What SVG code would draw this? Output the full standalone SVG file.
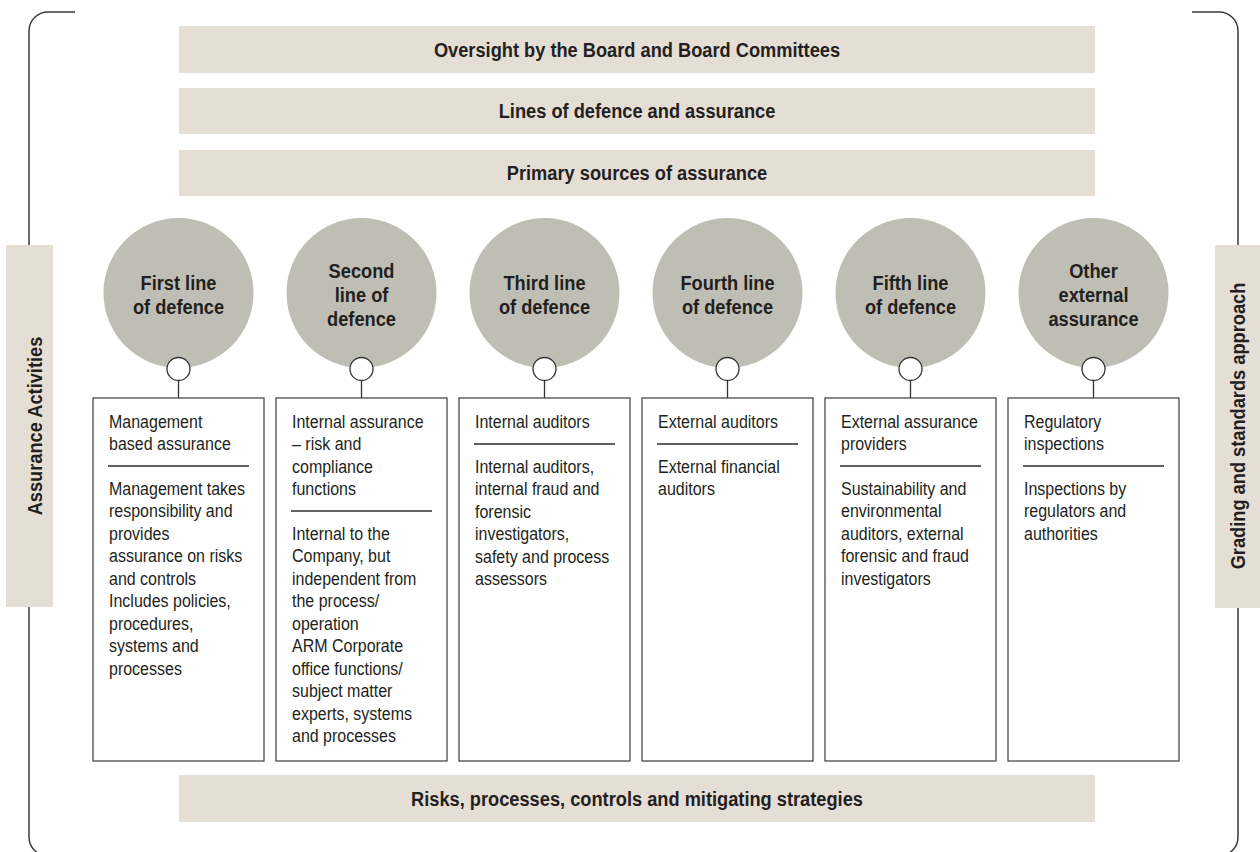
<svg xmlns="http://www.w3.org/2000/svg" width="1260" height="852" viewBox="0 0 1260 852">
<style>
.band{fill:#e5ded5}
.disc{fill:#bfbeb4}
.box{fill:#fff;stroke:#4a4a4a;stroke-width:1.3}
.sep{stroke:#2b2b2b;stroke-width:1.3}
.brk{fill:none;stroke:#3a3a3a;stroke-width:1.5}
.knob{fill:#fff;stroke:#333;stroke-width:1.3}
.stem{stroke:#333;stroke-width:1.3}
.h{font-family:"Liberation Sans",Arial,sans-serif;font-weight:bold;font-size:20.5px;fill:#231f20}
.b{font-family:"Liberation Sans",Arial,sans-serif;font-size:18.5px;fill:#231f20}
</style>

<g id="frame">
  <path class="brk" d="M75,12 H48 A19,19 0 0 0 29,31 V837 A19,19 0 0 0 48,856 H75"/>
  <path class="brk" d="M1192,12 H1219 A19,19 0 0 1 1238,31 V837 A19,19 0 0 1 1219,856 H1192"/>
</g>

<g id="side-left">
  <rect class="band" x="6" y="245" width="47" height="362"/>
  <text class="h" text-anchor="middle" transform="translate(42 426) rotate(-90) scale(0.89 1)">Assurance Activities</text>
</g>
<g id="side-right">
  <rect class="band" x="1215" y="245" width="47" height="363"/>
  <text class="h" text-anchor="middle" transform="translate(1245 426) rotate(-90) scale(0.89 1)">Grading and standards approach</text>
</g>

<g id="band-oversight">
  <rect class="band" x="179" y="26" width="916" height="47"/>
  <text class="h" text-anchor="middle" transform="translate(637 57) scale(0.89 1)">Oversight by the Board and Board Committees</text>
</g>
<g id="band-lines">
  <rect class="band" x="179" y="88" width="916" height="46"/>
  <text class="h" text-anchor="middle" transform="translate(637 118) scale(0.89 1)">Lines of defence and assurance</text>
</g>
<g id="band-primary">
  <rect class="band" x="179" y="150" width="916" height="46"/>
  <text class="h" text-anchor="middle" transform="translate(637 180) scale(0.89 1)">Primary sources of assurance</text>
</g>
<g id="band-risks">
  <rect class="band" x="179" y="775" width="916" height="47"/>
  <text class="h" text-anchor="middle" transform="translate(637 806) scale(0.89 1)">Risks, processes, controls and mitigating strategies</text>
</g>

<g id="connectors">
  <line class="stem" x1="178.5" y1="380.5" x2="178.5" y2="398"/>
  <line class="stem" x1="361.5" y1="380.5" x2="361.5" y2="398"/>
  <line class="stem" x1="544.5" y1="380.5" x2="544.5" y2="398"/>
  <line class="stem" x1="727.5" y1="380.5" x2="727.5" y2="398"/>
  <line class="stem" x1="910.5" y1="380.5" x2="910.5" y2="398"/>
  <line class="stem" x1="1093.5" y1="380.5" x2="1093.5" y2="398"/>
</g>

<g id="col1">
  <circle class="disc" cx="178.5" cy="293" r="75"/>
  <text class="h" text-anchor="middle" transform="translate(178.5 0) scale(0.89 1)"><tspan x="0" y="290">First line</tspan><tspan x="0" y="314">of defence</tspan></text>
  <circle class="knob" cx="178.5" cy="369" r="11.5"/>
  <rect class="box" x="93" y="398" width="171" height="363"/>
  <line class="sep" x1="108" y1="466" x2="249" y2="466"/>
  <g transform="translate(109 0) scale(0.865 1)">
    <text class="b" x="0" y="428">Management</text>
    <text class="b" x="0" y="450.5">based assurance</text>
    <text class="b" x="0" y="495">Management takes</text>
    <text class="b" x="0" y="517.5">responsibility and</text>
    <text class="b" x="0" y="540">provides</text>
    <text class="b" x="0" y="562.5">assurance on risks</text>
    <text class="b" x="0" y="585">and controls</text>
    <text class="b" x="0" y="607.5">Includes policies,</text>
    <text class="b" x="0" y="630">procedures,</text>
    <text class="b" x="0" y="652.5">systems and</text>
    <text class="b" x="0" y="675">processes</text>
  </g>
</g>

<g id="col2">
  <circle class="disc" cx="361.5" cy="293" r="75"/>
  <text class="h" text-anchor="middle" transform="translate(361.5 0) scale(0.89 1)"><tspan x="0" y="278">Second</tspan><tspan x="0" y="302">line of</tspan><tspan x="0" y="326">defence</tspan></text>
  <circle class="knob" cx="361.5" cy="369" r="11.5"/>
  <rect class="box" x="276" y="398" width="171" height="363"/>
  <line class="sep" x1="291" y1="511" x2="432" y2="511"/>
  <g transform="translate(292 0) scale(0.865 1)">
    <text class="b" x="0" y="428">Internal assurance</text>
    <text class="b" x="0" y="450.5">– risk and</text>
    <text class="b" x="0" y="473">compliance</text>
    <text class="b" x="0" y="495.5">functions</text>
    <text class="b" x="0" y="540">Internal to the</text>
    <text class="b" x="0" y="562.5">Company, but</text>
    <text class="b" x="0" y="585">independent from</text>
    <text class="b" x="0" y="607.5">the process/</text>
    <text class="b" x="0" y="630">operation</text>
    <text class="b" x="0" y="652.5">ARM Corporate</text>
    <text class="b" x="0" y="675">office functions/</text>
    <text class="b" x="0" y="697.5">subject matter</text>
    <text class="b" x="0" y="720">experts, systems</text>
    <text class="b" x="0" y="742.5">and processes</text>
  </g>
</g>

<g id="col3">
  <circle class="disc" cx="544.5" cy="293" r="75"/>
  <text class="h" text-anchor="middle" transform="translate(544.5 0) scale(0.89 1)"><tspan x="0" y="290">Third line</tspan><tspan x="0" y="314">of defence</tspan></text>
  <circle class="knob" cx="544.5" cy="369" r="11.5"/>
  <rect class="box" x="459" y="398" width="171" height="363"/>
  <line class="sep" x1="474" y1="444" x2="615" y2="444"/>
  <g transform="translate(475 0) scale(0.865 1)">
    <text class="b" x="0" y="428">Internal auditors</text>
    <text class="b" x="0" y="473">Internal auditors,</text>
    <text class="b" x="0" y="495.5">internal fraud and</text>
    <text class="b" x="0" y="518">forensic</text>
    <text class="b" x="0" y="540.5">investigators,</text>
    <text class="b" x="0" y="563">safety and process</text>
    <text class="b" x="0" y="585.5">assessors</text>
  </g>
</g>

<g id="col4">
  <circle class="disc" cx="727.5" cy="293" r="75"/>
  <text class="h" text-anchor="middle" transform="translate(727.5 0) scale(0.89 1)"><tspan x="0" y="290">Fourth line</tspan><tspan x="0" y="314">of defence</tspan></text>
  <circle class="knob" cx="727.5" cy="369" r="11.5"/>
  <rect class="box" x="642" y="398" width="171" height="363"/>
  <line class="sep" x1="657" y1="444" x2="798" y2="444"/>
  <g transform="translate(658 0) scale(0.865 1)">
    <text class="b" x="0" y="428">External auditors</text>
    <text class="b" x="0" y="473">External financial</text>
    <text class="b" x="0" y="495.5">auditors</text>
  </g>
</g>

<g id="col5">
  <circle class="disc" cx="910.5" cy="293" r="75"/>
  <text class="h" text-anchor="middle" transform="translate(910.5 0) scale(0.89 1)"><tspan x="0" y="290">Fifth line</tspan><tspan x="0" y="314">of defence</tspan></text>
  <circle class="knob" cx="910.5" cy="369" r="11.5"/>
  <rect class="box" x="825" y="398" width="171" height="363"/>
  <line class="sep" x1="840" y1="466" x2="981" y2="466"/>
  <g transform="translate(841 0) scale(0.865 1)">
    <text class="b" x="0" y="428">External assurance</text>
    <text class="b" x="0" y="450.5">providers</text>
    <text class="b" x="0" y="495">Sustainability and</text>
    <text class="b" x="0" y="517.5">environmental</text>
    <text class="b" x="0" y="540">auditors, external</text>
    <text class="b" x="0" y="562.5">forensic and fraud</text>
    <text class="b" x="0" y="585">investigators</text>
  </g>
</g>

<g id="col6">
  <circle class="disc" cx="1093.5" cy="293" r="75"/>
  <text class="h" text-anchor="middle" transform="translate(1093.5 0) scale(0.89 1)"><tspan x="0" y="278">Other</tspan><tspan x="0" y="302">external</tspan><tspan x="0" y="326">assurance</tspan></text>
  <circle class="knob" cx="1093.5" cy="369" r="11.5"/>
  <rect class="box" x="1008" y="398" width="171" height="363"/>
  <line class="sep" x1="1023" y1="466" x2="1164" y2="466"/>
  <g transform="translate(1024 0) scale(0.865 1)">
    <text class="b" x="0" y="428">Regulatory</text>
    <text class="b" x="0" y="450.5">inspections</text>
    <text class="b" x="0" y="495">Inspections by</text>
    <text class="b" x="0" y="517.5">regulators and</text>
    <text class="b" x="0" y="540">authorities</text>
  </g>
</g>
</svg>
